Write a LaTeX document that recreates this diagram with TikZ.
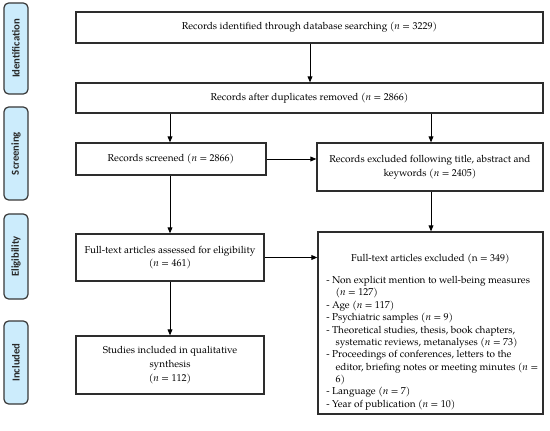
\documentclass[tikz,border=0pt]{standalone}
\usepackage{fontspec}
\setmainfont{TeX Gyre Pagella}
\newfontfamily\barfont{Carlito}
\usetikzlibrary{arrows.meta}
\definecolor{barfill}{RGB}{204,236,252}
\definecolor{barline}{RGB}{55,55,55}
\definecolor{boxline}{RGB}{45,45,45}
\definecolor{bartext}{RGB}{40,40,40}
\newcommand{\boxfont}{\fontsize{7.5}{10.3}\selectfont}
\newcommand{\listfont}{\fontsize{7.5}{9.28}\selectfont}
\newcommand{\nn}{\textit{n}}
\begin{document}
\begin{tikzpicture}[x=0.75pt,y=-0.75pt,
  box/.style={draw=boxline, line width=0.9pt, fill=white, inner sep=0pt, align=center, font=\boxfont},
  sidebar/.style={draw=barline, fill=barfill, rounded corners=3.5pt, line width=0.9pt, inner sep=0pt, rotate=90, text=bartext, font=\barfont\bfseries\fontsize{8}{9}\selectfont},
  arr/.style={-{Triangle[length=4.5pt,width=3.6pt]}, line width=0.7pt, black}
]
\useasboundingbox (0,0) rectangle (550,431);
% side bars
\node[sidebar, minimum width=91*0.75pt, minimum height=24*0.75pt] (s1) at (16,48.5) {Identification};
\node[sidebar, minimum width=93*0.75pt, minimum height=24*0.75pt] (s2) at (16,153.5) {Screening};
\node[sidebar, minimum width=85*0.75pt, minimum height=24*0.75pt] (s3) at (16,256.5) {Eligibility};
\node[sidebar, minimum width=83*0.75pt, minimum height=24*0.75pt] (s4) at (16,362.5) {Included};
% boxes
\node[box, minimum width=467*0.75pt, minimum height=31*0.75pt] (b1) at (309.5,27.5) {Records identified through database searching (\nn{} = 3229)};
\node[box, minimum width=467*0.75pt, minimum height=30*0.75pt] (b2) at (309.5,98) {Records after duplicates removed (\nn{} = 2866)};
\node[box, minimum width=190*0.75pt, minimum height=32*0.75pt] (b3) at (171,159) {Records screened (\nn{} = 2866)};
\node[box, minimum width=226*0.75pt, minimum height=48*0.75pt] (b4) at (430,167) {Records excluded following title, abstract and\\keywords (\nn{} = 2405)};
\node[box, minimum width=188*0.75pt, minimum height=47*0.75pt] (b5) at (170,257.5) {Full-text articles assessed for eligibility\\(\nn{} = 461)};
\node[box, minimum width=225*0.75pt, minimum height=182*0.75pt] (b6) at (430.5,323) {};
\node[box, minimum width=188*0.75pt, minimum height=58*0.75pt] (b7) at (170,365) {Studies included in qualitative\\synthesis\\(\nn{} = 112)};
% box 6 content
\node[font=\boxfont, inner sep=0pt] (b6title) at (430.5,259) {Full-text articles excluded (n = 349)};
\node[font=\listfont, inner sep=0pt, align=left, anchor=north west] (b6list) at (326,276) {%
- Non explicit mention to well-being measures\\
\hspace*{7pt}(\nn{} = 127)\\
- Age (\nn{} = 117)\\
- Psychiatric samples (\nn{} = 9)\\
- Theoretical studies, thesis, book chapters,\\
\hspace*{7pt}systematic reviews, metanalyses (\nn{} = 73)\\
- Proceedings of conferences, letters to the\\
\hspace*{7pt}editor, briefing notes or meeting minutes (\nn{} =\\
\hspace*{7pt}6)\\
- Language (\nn{} = 7)\\
- Year of publication (\nn{} = 10)};
% connector x positions
\coordinate (xa) at (310,0);
\coordinate (xb) at (170,0);
\coordinate (xc) at (431,0);
% connectors
\draw[arr] (xa |- b1.south) -- (xa |- b2.north);
\draw[arr] (xb |- b2.south) -- (xb |- b3.north);
\draw[arr] (xc |- b2.south) -- (xc |- b4.north);
\draw[arr] (b3.east) -- (b4.west |- b3.east);
\draw[arr] (xb |- b3.south) -- (xb |- b5.north);
\draw[arr] (xc |- b4.south) -- (xc |- b6.north);
\draw[arr] (b5.east) -- (b6.west |- b5.east);
\draw[arr] (xb |- b5.south) -- (xb |- b7.north);
\end{tikzpicture}
\end{document}
